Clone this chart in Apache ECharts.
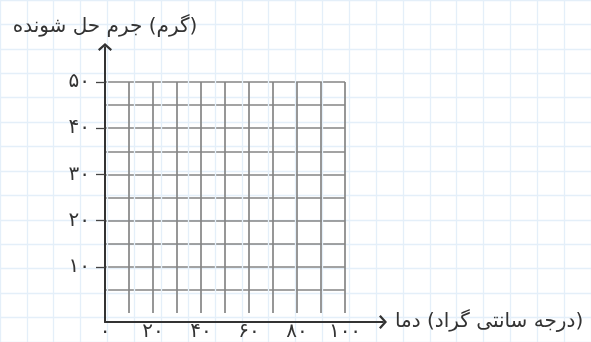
<!DOCTYPE html>
<html>
<head>
<meta charset="utf-8">
<style>html,body{margin:0;padding:0;background:#fff;}#c{width:591px;height:342px;}</style>
<script src="https://cdn.jsdelivr.net/npm/echarts@6/dist/echarts.min.js"></script>
</head>
<body>
<div id="c"></div>
<script>
// Data: axis ranges and tick labels (empty worksheet chart)
var xRange = [0, 100];
var yRange = [0, 50];
var xGridStep = 10;
var yGridStep = 5;
var xTickValues = [0, 20, 40, 60, 80, 100];
var xTickLabels = ['۰', '۲۰', '۴۰', '۶۰', '۸۰', '۱۰۰'];
var yTickValues = [10, 20, 30, 40, 50];
var yTickLabels = ['۱۰', '۲۰', '۳۰', '۴۰', '۵۰'];
var xTitle = '(درجه سانتی گراد) دما';
var yTitle = '(گرم) جرم حل شونده';

var RLE = '\u202B', PDF = '\u202C';
var FONT = 'DejaVu Sans';
var dark = '#333333';
var textColor = '#333333';
var gridGray = '#858585';
var chevron = 'path://M0,0 L7,6.3 L5.6,8 L0,3 L-5.6,8 L-7,6.3 Z';

var chart = echarts.init(document.getElementById('c'), null, {renderer: 'canvas'});
chart.setOption({
  animation: false,
  backgroundColor: '#ffffff',
  grid: [
    {left: -21.3, top: -1.7, width: 616, height: 383.6, containLabel: false},
    {left: 105, top: 47, width: 278, height: 275},
    {left: 105, top: 82, width: 240, height: 240}
  ],
  xAxis: [
    {gridIndex: 0, type: 'value', position: 'bottom', min: 0, max: 22, interval: 1, axisLine: {show: false}, axisTick: {show: false}, axisLabel: {show: false},
     splitLine: {show: true, lineStyle: {color: '#e4eff9', width: 1.3}}},
    {gridIndex: 1, type: 'value', position: 'bottom', min: 0, max: 1, axisTick: {show: false}, axisLabel: {show: false}, splitLine: {show: false},
     axisLine: {show: true, symbol: ['none', chevron], symbolSize: [14, 8], lineStyle: {color: dark, width: 2}},
     name: RLE + xTitle + PDF, nameLocation: 'end', nameGap: 12,
     nameTextStyle: {fontFamily: FONT, fontSize: 20, color: textColor, align: 'left', verticalAlign: 'middle'}},
    {gridIndex: 2, type: 'value', position: 'bottom', offset: 0, min: xRange[0], max: xRange[1], interval: xGridStep,
     axisLine: {show: false}, axisTick: {show: false},
     splitLine: {show: true, showMinLine: false, showMaxLine: true, lineStyle: {color: gridGray, width: 1.7}},
     axisLabel: {show: false}},
    {gridIndex: 2, type: 'value', position: 'bottom', offset: 0, min: xRange[0], max: xRange[1],
     axisLine: {show: false}, axisTick: {show: false}, splitLine: {show: false},
     axisLabel: {show: true, customValues: xTickValues, margin: 9, fontFamily: FONT, fontSize: 20, color: textColor,
       formatter: function (v) { var i = xTickValues.indexOf(v); return i >= 0 ? xTickLabels[i] : ''; }}}
  ],
  yAxis: [
    {gridIndex: 0, type: 'value', position: 'left', min: 0, max: 14, interval: 1, inverse: true, axisLine: {show: false}, axisTick: {show: false}, axisLabel: {show: false},
     splitLine: {show: true, lineStyle: {color: '#e4eff9', width: 1.3}}},
    {gridIndex: 1, type: 'value', position: 'left', min: 0, max: 1, axisTick: {show: false}, axisLabel: {show: false}, splitLine: {show: false},
     axisLine: {show: true, symbol: ['none', chevron], symbolSize: [14, 8], lineStyle: {color: dark, width: 2}},
     name: RLE + yTitle + PDF, nameLocation: 'end', nameGap: 10,
     nameTextStyle: {fontFamily: FONT, fontSize: 20, color: textColor, align: 'center', verticalAlign: 'bottom'}},
    {gridIndex: 2, type: 'value', position: 'left', offset: 0, min: yRange[0], max: yRange[1], interval: yGridStep,
     axisLine: {show: false}, axisTick: {show: false}, axisLabel: {show: false},
     splitLine: {show: true, showMinLine: false, showMaxLine: true, lineStyle: {color: gridGray, width: 1.7}}},
    {gridIndex: 2, type: 'value', position: 'left', offset: 0, min: yRange[0], max: yRange[1],
     axisLine: {show: false}, splitLine: {show: false},
     axisTick: {show: true, customValues: yTickValues, length: 9, lineStyle: {color: '#444', width: 1.3}},
     axisLabel: {show: true, customValues: yTickValues, margin: 15, fontFamily: FONT, fontSize: 20, color: textColor,
       formatter: function (v) { var i = yTickValues.indexOf(v); return i >= 0 ? yTickLabels[i] : ''; }}}
  ],
  series: [
    {type: 'line', xAxisIndex: 2, yAxisIndex: 2, data: [], silent: true}
  ]
});
</script>
</body>
</html>
